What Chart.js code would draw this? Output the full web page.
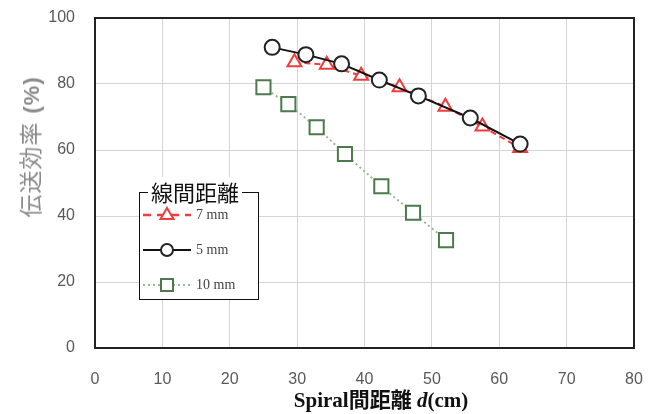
<!DOCTYPE html>
<html>
<head>
<meta charset="utf-8">
<script src="https://cdn.jsdelivr.net/npm/chart.js@4.4.1/dist/chart.umd.min.js"></script>
<style>
  body { margin: 0; background: #fff; }
  #wrap { position: relative; width: 667px; height: 414px; }
  #ytitle {
    position: absolute; left: 29px; top: 147px;
    transform: translate(-50%, -50%) rotate(-90deg);
    white-space: nowrap; font-family: "Noto Sans CJK JP", sans-serif;
    font-size: 23px; letter-spacing: 1px; color: #8a8a8a;
  }
  #ytitle b { font-family: "Liberation Sans", sans-serif; font-size: 22px; margin-left: 8px; }
  #xtitle {
    position: absolute; left: 381px; top: 398px; transform: translate(-50%, -50%);
    white-space: nowrap; font-family: "Liberation Serif", "Noto Sans CJK JP", serif;
    font-weight: bold; font-size: 21px; color: #111;
  }
  #legend {
    position: absolute; left: 139px; top: 192px; width: 118px; height: 106px;
    border: 1.5px solid #111; background: #fff;
  }
  #legend .ttl {
    position: absolute; left: 8px; top: -16px; padding: 0 3px; background: #fff;
    font-family: "Noto Sans CJK JP", sans-serif; font-size: 22px; line-height: 28px; color: #111;
  }
  #legend .row { position: absolute; left: 1px; height: 20px; display: flex; align-items: center; }
  #legend .row span { font-family: "Liberation Serif", serif; font-size: 14px; color: #444; margin-left: 3px; }
</style>
</head>
<body>
<div id="wrap">
  <canvas id="c" width="667" height="414"></canvas>
  <div id="ytitle">伝送効率<b>(%)</b></div>
  <div id="xtitle">Spiral間距離 <i>d</i>(cm)</div>
  <div id="legend">
    <div class="ttl">線間距離</div>
    <div class="row" style="top:12px">
      <svg width="52" height="20"><line x1="2" y1="10" x2="50" y2="10" stroke="#f03c3c" stroke-width="2.5" stroke-dasharray="8,6"/><polygon points="26,3 32.5,14 19.5,14" fill="#fff" stroke="#f03c3c" stroke-width="2"/></svg>
      <span>7 mm</span>
    </div>
    <div class="row" style="top:47px">
      <svg width="52" height="20"><line x1="2" y1="10" x2="50" y2="10" stroke="#111" stroke-width="2"/><circle cx="26" cy="10" r="6" fill="#fff" stroke="#222" stroke-width="2"/></svg>
      <span>5 mm</span>
    </div>
    <div class="row" style="top:82px">
      <svg width="52" height="20"><line x1="2" y1="10" x2="50" y2="10" stroke="#9cb89c" stroke-width="2" stroke-dasharray="2,3"/><rect x="20" y="4" width="12" height="12" fill="#fff" stroke="#4c7a4c" stroke-width="2"/></svg>
      <span>10 mm</span>
    </div>
  </div>
</div>
<script>
// Spiral distance d (cm) and efficiency (%) for each line spacing
const d5mm = [26.3, 31.3, 36.6, 42.2, 48.0, 55.7, 63.1];
const eff5mm = [91.1, 88.9, 86.1, 81.2, 76.4, 69.7, 61.8];

const d7mm = [29.6, 34.4, 39.5, 45.2, 52.0, 57.5, 63.1];
const eff7mm = [86.6, 85.8, 82.5, 79.0, 73.1, 67.1, 60.6];

const d10mm = [25.0, 28.7, 32.9, 37.1, 42.5, 47.2, 52.1];
const eff10mm = [79.0, 73.9, 66.9, 58.8, 49.0, 41.0, 32.7];

const xTicks = [0, 10, 20, 30, 40, 50, 60, 70, 80];
const yTicks = [0, 20, 40, 60, 80, 100];

function toPoints(xs, ys) {
    return xs.map((x, i) => ({ x: x, y: ys[i] }));
}

// draws the closed box round the plot area
const frame = {
    id: 'frame',
    beforeDatasetsDraw(chart) {
        const a = chart.chartArea;
        const ctx = chart.ctx;
        ctx.save();
        ctx.strokeStyle = '#222';
        ctx.lineWidth = 2;
        ctx.strokeRect(a.left, a.top, a.right - a.left, a.bottom - a.top);
        ctx.restore();
    }
};

const tickFont = { family: 'Liberation Sans', size: 16 };

new Chart(document.getElementById('c'), {
    type: 'scatter',
    data: {
        datasets: [
            {
                label: '5 mm',
                data: toPoints(d5mm, eff5mm),
                showLine: true,
                borderColor: '#111',
                borderWidth: 2,
                pointStyle: 'circle',
                pointRadius: 7.5,
                pointBorderWidth: 2,
                pointBorderColor: '#222',
                pointBackgroundColor: '#fff'
            },
            {
                label: '7 mm',
                data: toPoints(d7mm, eff7mm),
                showLine: true,
                borderColor: '#f03c3c',
                borderWidth: 2,
                borderDash: [6, 4],
                pointStyle: 'triangle',
                pointRadius: 8,
                pointBorderWidth: 2,
                pointBorderColor: '#f03c3c',
                pointBackgroundColor: '#fff'
            },
            {
                label: '10 mm',
                data: toPoints(d10mm, eff10mm),
                showLine: true,
                borderColor: '#9cb89c',
                borderWidth: 2,
                borderDash: [2, 3],
                pointStyle: 'rect',
                pointRadius: 10,
                pointBorderWidth: 2,
                pointBorderColor: '#4c7a4c',
                pointBackgroundColor: '#fff'
            }
        ]
    },
    options: {
        responsive: false,
        animation: false,
        devicePixelRatio: 1,
        layout: { padding: { top: 18, right: 33, left: 0, bottom: 0 } },
        plugins: { legend: { display: false }, tooltip: { enabled: false } },
        scales: {
            x: {
                type: 'linear',
                min: 0, max: 80,
                afterFit: s => { s.height = 66; s.paddingLeft = 0; s.paddingRight = 0; },
                afterBuildTicks: s => { s.ticks = xTicks.map(v => ({ value: v })); },
                ticks: { color: '#595959', font: tickFont, padding: 22 },
                grid: { color: '#d4d4d4', lineWidth: 1, drawTicks: false },
                border: { display: false }
            },
            y: {
                type: 'linear',
                min: 0, max: 100,
                afterFit: s => { s.width = 95; s.paddingTop = 0; s.paddingBottom = 0; },
                afterBuildTicks: s => { s.ticks = yTicks.map(v => ({ value: v })); },
                ticks: { color: '#595959', font: tickFont, padding: 20 },
                grid: { color: '#d4d4d4', lineWidth: 1, drawTicks: false },
                border: { display: false }
            }
        }
    },
    plugins: [frame]
});
</script>
</body>
</html>
